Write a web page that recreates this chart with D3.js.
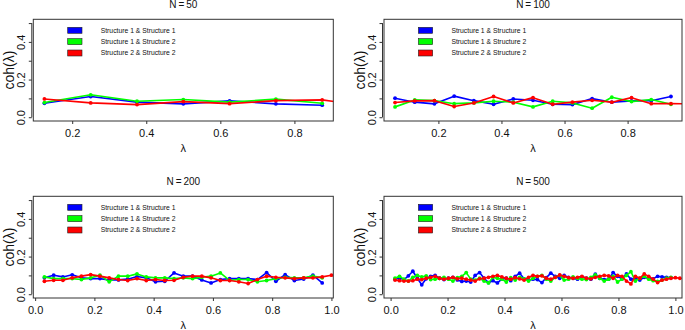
<!DOCTYPE html>
<html>
<head>
<meta charset="utf-8">
<script src="https://cdn.jsdelivr.net/npm/d3@7.9.0/dist/d3.min.js"></script>
<style>
  body { margin: 0; background: #fff; }
  svg { display: block; font-family: "Liberation Sans", Arial, Helvetica, sans-serif; }
</style>
</head>
<body>
<svg id="chart" width="685" height="330"></svg>
<script>
// --- data
const seriesNames = ['Structure 1 & Structure 1', 'Structure 1 & Structure 2', 'Structure 2 & Structure 2'];
const seriesColors = ['#0000ff', '#00ff00', '#ff0000'];
const panelTitles = ['N = 50', 'N = 100', 'N = 200', 'N = 500'];
const yTicks = [0, 0.1, 0.2, 0.3, 0.4, 0.5];

// frequency grids (λ, in units of π)
const lam50 = [0.125, 0.25, 0.375, 0.5, 0.625, 0.75, 0.875, 1.0];
const lam100 = [0.0625, 0.125, 0.1875, 0.25, 0.3125, 0.375, 0.4375, 0.5, 0.5625, 0.625, 0.6875, 0.75, 0.8125, 0.875, 0.9375, 1.0];
const lam200 = [0.0313, 0.0625, 0.0938, 0.125, 0.1563, 0.1875, 0.2188, 0.25, 0.2813, 0.3125, 0.3438, 0.375, 0.4063, 0.4375, 0.4688, 0.5,
  0.5313, 0.5625, 0.5938, 0.625, 0.6563, 0.6875, 0.7188, 0.75, 0.7813, 0.8125, 0.8438, 0.875, 0.9063, 0.9375, 0.9688, 1.0];
const lam500 = [0.0156, 0.0313, 0.0469, 0.0625, 0.0781, 0.0938, 0.1094, 0.125, 0.1406, 0.1563, 0.1719, 0.1875, 0.2031, 0.2188, 0.2344, 0.25,
  0.2656, 0.2813, 0.2969, 0.3125, 0.3281, 0.3438, 0.3594, 0.375, 0.3906, 0.4063, 0.4219, 0.4375, 0.4531, 0.4688, 0.4844, 0.5,
  0.5156, 0.5313, 0.5469, 0.5625, 0.5781, 0.5938, 0.6094, 0.625, 0.6406, 0.6563, 0.6719, 0.6875, 0.7031, 0.7188, 0.7344, 0.75,
  0.7656, 0.7813, 0.7969, 0.8125, 0.8281, 0.8438, 0.8594, 0.875, 0.8906, 0.9063, 0.9219, 0.9375, 0.9531, 0.9688, 0.9844, 1.0, 1.0156];

// N = 50
const blue50  = [0.074, 0.110, 0.080, 0.071, 0.087, 0.071, 0.064];
const green50 = [0.078, 0.119, 0.085, 0.094, 0.080, 0.096, 0.074];
const red50   = [0.097, 0.076, 0.067, 0.083, 0.072, 0.088, 0.092, 0.058];

// N = 100
const blue100  = [0.101, 0.080, 0.071, 0.112, 0.088, 0.069, 0.097, 0.090, 0.069, 0.067, 0.099, 0.080, 0.087, 0.088, 0.110];
const green100 = [0.055, 0.092, 0.088, 0.072, 0.076, 0.085, 0.080, 0.055, 0.085, 0.076, 0.048, 0.106, 0.083, 0.094, 0.069];
const red100   = [0.078, 0.087, 0.088, 0.057, 0.076, 0.110, 0.076, 0.104, 0.069, 0.080, 0.090, 0.080, 0.104, 0.072, 0.072, 0.071];

// N = 200
const blue200  = [0.087, 0.101, 0.092, 0.103, 0.087, 0.083, 0.083, 0.076, 0.076, 0.080, 0.094, 0.087, 0.066, 0.069, 0.113, 0.096,
  0.096, 0.076, 0.060, 0.078, 0.083, 0.083, 0.083, 0.078, 0.115, 0.069, 0.104, 0.073, 0.081, 0.101, 0.060];
const green200 = [0.092, 0.083, 0.083, 0.083, 0.078, 0.087, 0.101, 0.066, 0.096, 0.096, 0.108, 0.092, 0.087, 0.087, 0.083, 0.087,
  0.083, 0.090, 0.096, 0.113, 0.074, 0.078, 0.078, 0.066, 0.073, 0.083, 0.090, 0.087, 0.087, 0.096, 0.087];
const red200   = [0.069, 0.074, 0.074, 0.087, 0.096, 0.104, 0.096, 0.087, 0.078, 0.073, 0.083, 0.073, 0.078, 0.073, 0.074, 0.090,
  0.096, 0.096, 0.087, 0.073, 0.073, 0.066, 0.057, 0.078, 0.096, 0.090, 0.087, 0.083, 0.087, 0.087, 0.092, 0.101];

// N = 500
const blue500  = [0.080, 0.085, 0.078, 0.098, 0.122, 0.085, 0.050, 0.082, 0.095, 0.100, 0.085, 0.078, 0.085, 0.090, 0.076, 0.068,
  0.070, 0.065, 0.100, 0.115, 0.085, 0.062, 0.072, 0.060, 0.080, 0.085, 0.072, 0.095, 0.112, 0.082, 0.075, 0.080,
  0.078, 0.062, 0.088, 0.112, 0.095, 0.085, 0.100, 0.090, 0.085, 0.080, 0.092, 0.086, 0.080, 0.106, 0.085, 0.078,
  0.080, 0.115, 0.095, 0.082, 0.108, 0.080, 0.085, 0.075, 0.090, 0.085, 0.082, 0.095, 0.092, 0.090, 0.088];
const green500 = [0.085, 0.095, 0.080, 0.070, 0.090, 0.100, 0.092, 0.098, 0.078, 0.080, 0.085, 0.090, 0.080, 0.070, 0.088, 0.095,
  0.115, 0.080, 0.075, 0.085, 0.070, 0.060, 0.090, 0.085, 0.080, 0.065, 0.088, 0.075, 0.090, 0.082, 0.070, 0.085,
  0.095, 0.100, 0.080, 0.070, 0.090, 0.100, 0.075, 0.080, 0.092, 0.085, 0.080, 0.078, 0.090, 0.102, 0.085, 0.070,
  0.080, 0.095, 0.065, 0.080, 0.100, 0.120, 0.070, 0.085, 0.095, 0.080, 0.072, 0.068, 0.075, 0.085, 0.090];
const red500   = [0.075, 0.072, 0.070, 0.070, 0.072, 0.080, 0.078, 0.085, 0.090, 0.095, 0.085, 0.080, 0.085, 0.090, 0.082, 0.085,
  0.080, 0.075, 0.070, 0.082, 0.085, 0.090, 0.095, 0.100, 0.092, 0.085, 0.080, 0.088, 0.082, 0.075, 0.090, 0.100,
  0.095, 0.098, 0.085, 0.080, 0.090, 0.102, 0.095, 0.088, 0.085, 0.090, 0.095, 0.085, 0.082, 0.090, 0.095, 0.100,
  0.098, 0.085, 0.100, 0.095, 0.070, 0.055, 0.095, 0.085, 0.108, 0.095, 0.080, 0.062, 0.075, 0.080, 0.085, 0.088, 0.085];

const panels = [
  { title: panelTitles[0], lam: lam50,  series: [blue50,  green50,  red50]  },
  { title: panelTitles[1], lam: lam100, series: [blue100, green100, red100] },
  { title: panelTitles[2], lam: lam200, series: [blue200, green200, red200] },
  { title: panelTitles[3], lam: lam500, series: [blue500, green500, red500] }
];

// --- layout: plot boxes of the 2x2 grid
const boxes = [
  { l: 33.3, r: 333.3, t: 19.3, b: 121 },
  { l: 384,  r: 682,   t: 19.3, b: 121 },
  { l: 33.3, r: 333.3, t: 196.3, b: 298 },
  { l: 384,  r: 682,   t: 196.3, b: 298 }
];

const svg = d3.select('#chart');
const defs = svg.append('defs');
const fmt = d3.format('.1f');

panels.forEach((p, i) => {
  const bx = boxes[i];
  const n = p.series[0].length;
  // R style axis range: data range padded by 4%
  const lo = p.lam[0], hi = p.lam[n - 1], pad = (hi - lo) * 0.04;
  const x = d3.scaleLinear().domain([lo - pad, hi + pad]).range([bx.l, bx.r]);
  const y = d3.scaleLinear().domain([-0.02, 0.52]).range([bx.b, bx.t]);

  const g = svg.append('g');

  defs.append('clipPath').attr('id', 'clip' + i)
    .append('rect')
    .attr('x', bx.l).attr('y', bx.t)
    .attr('width', bx.r - bx.l).attr('height', bx.b - bx.t);

  // series
  const line = d3.line().x(d => x(d[0])).y(d => y(d[1]));
  const plot = g.append('g').attr('clip-path', `url(#clip${i})`);
  p.series.forEach((vals, s) => {
    const pts = vals.map((v, j) => [p.lam[j], v]);
    plot.append('path')
      .datum(pts)
      .attr('d', line)
      .attr('fill', 'none')
      .attr('stroke', seriesColors[s])
      .attr('stroke-width', 1.6)
      .attr('stroke-linejoin', 'round');
    plot.append('g').selectAll('circle')
      .data(pts)
      .join('circle')
      .attr('cx', d => x(d[0]))
      .attr('cy', d => y(d[1]))
      .attr('r', 1.9)
      .attr('fill', seriesColors[s]);
  });

  // box
  g.append('rect')
    .attr('x', bx.l).attr('y', bx.t)
    .attr('width', bx.r - bx.l).attr('height', bx.b - bx.t)
    .attr('fill', 'none').attr('stroke', '#333').attr('stroke-width', 1);

  // x axis
  const xAxis = g.append('g')
    .attr('transform', `translate(0,${bx.b})`)
    .call(d3.axisBottom(x).ticks(5).tickSize(3).tickSizeOuter(0).tickPadding(5.5).tickFormat(fmt));
  xAxis.select('.domain').remove();
  xAxis.selectAll('line').attr('stroke', '#333');
  xAxis.selectAll('text').attr('font-size', 11).attr('fill', '#111')
    .attr('font-family', '"Liberation Sans", Arial, sans-serif');

  // y axis (offset a little from the box, labels rotated, odd labels dropped)
  const ax = bx.l - 1.5;
  const yAxis = g.append('g')
    .attr('transform', `translate(${ax},0)`)
    .call(d3.axisLeft(y).tickValues(yTicks).tickSize(3).tickSizeOuter(0)
      .tickFormat(d => (Math.round(d * 10) % 2 === 0 ? fmt(d) : '')));
  yAxis.select('.domain').remove();
  yAxis.append('line')
    .attr('x1', 0).attr('x2', 0)
    .attr('y1', y(yTicks[0])).attr('y2', y(yTicks[yTicks.length - 1]))
    .attr('stroke', '#333');
  yAxis.selectAll('line').attr('stroke', '#333');
  yAxis.selectAll('.tick text')
    .attr('x', null).attr('dy', null)
    .attr('text-anchor', 'middle')
    .attr('transform', 'translate(-6.8,0) rotate(-90)')
    .attr('font-size', 11).attr('fill', '#111')
    .attr('font-family', '"Liberation Sans", Arial, sans-serif');

  // titles and axis labels
  const cx = (bx.l + bx.r) / 2;
  g.append('text')
    .attr('x', cx).attr('y', bx.t - 11.3)
    .attr('text-anchor', 'middle')
    .attr('font-size', 10).attr('fill', '#111')
    .text(p.title.replace(/ /g, '\u2009'));

  g.append('text')
    .attr('x', cx).attr('y', bx.b + 31)
    .attr('text-anchor', 'middle')
    .attr('font-size', 11).attr('fill', '#111')
    .text('λ');

  g.append('text')
    .attr('transform', `translate(${bx.l - 19.3},${(bx.t + bx.b) / 2}) rotate(-90)`)
    .attr('text-anchor', 'middle')
    .attr('font-size', 14).attr('fill', '#111')
    .text('coh(λ)');

  // legend
  const leg = g.append('g');
  seriesNames.forEach((name, s) => {
    const cy = bx.t + 11 + s * 11.35;
    leg.append('rect')
      .attr('x', bx.l + 34.4).attr('y', cy - 3)
      .attr('width', 14.3).attr('height', 6)
      .attr('fill', seriesColors[s])
      .attr('stroke', '#222').attr('stroke-width', 0.6);
    leg.append('text')
      .attr('x', bx.l + 67.4).attr('y', cy + 2.4)
      .attr('font-size', 6.8).attr('fill', '#111')
      .text(name);
  });
});
</script>
</body>
</html>
